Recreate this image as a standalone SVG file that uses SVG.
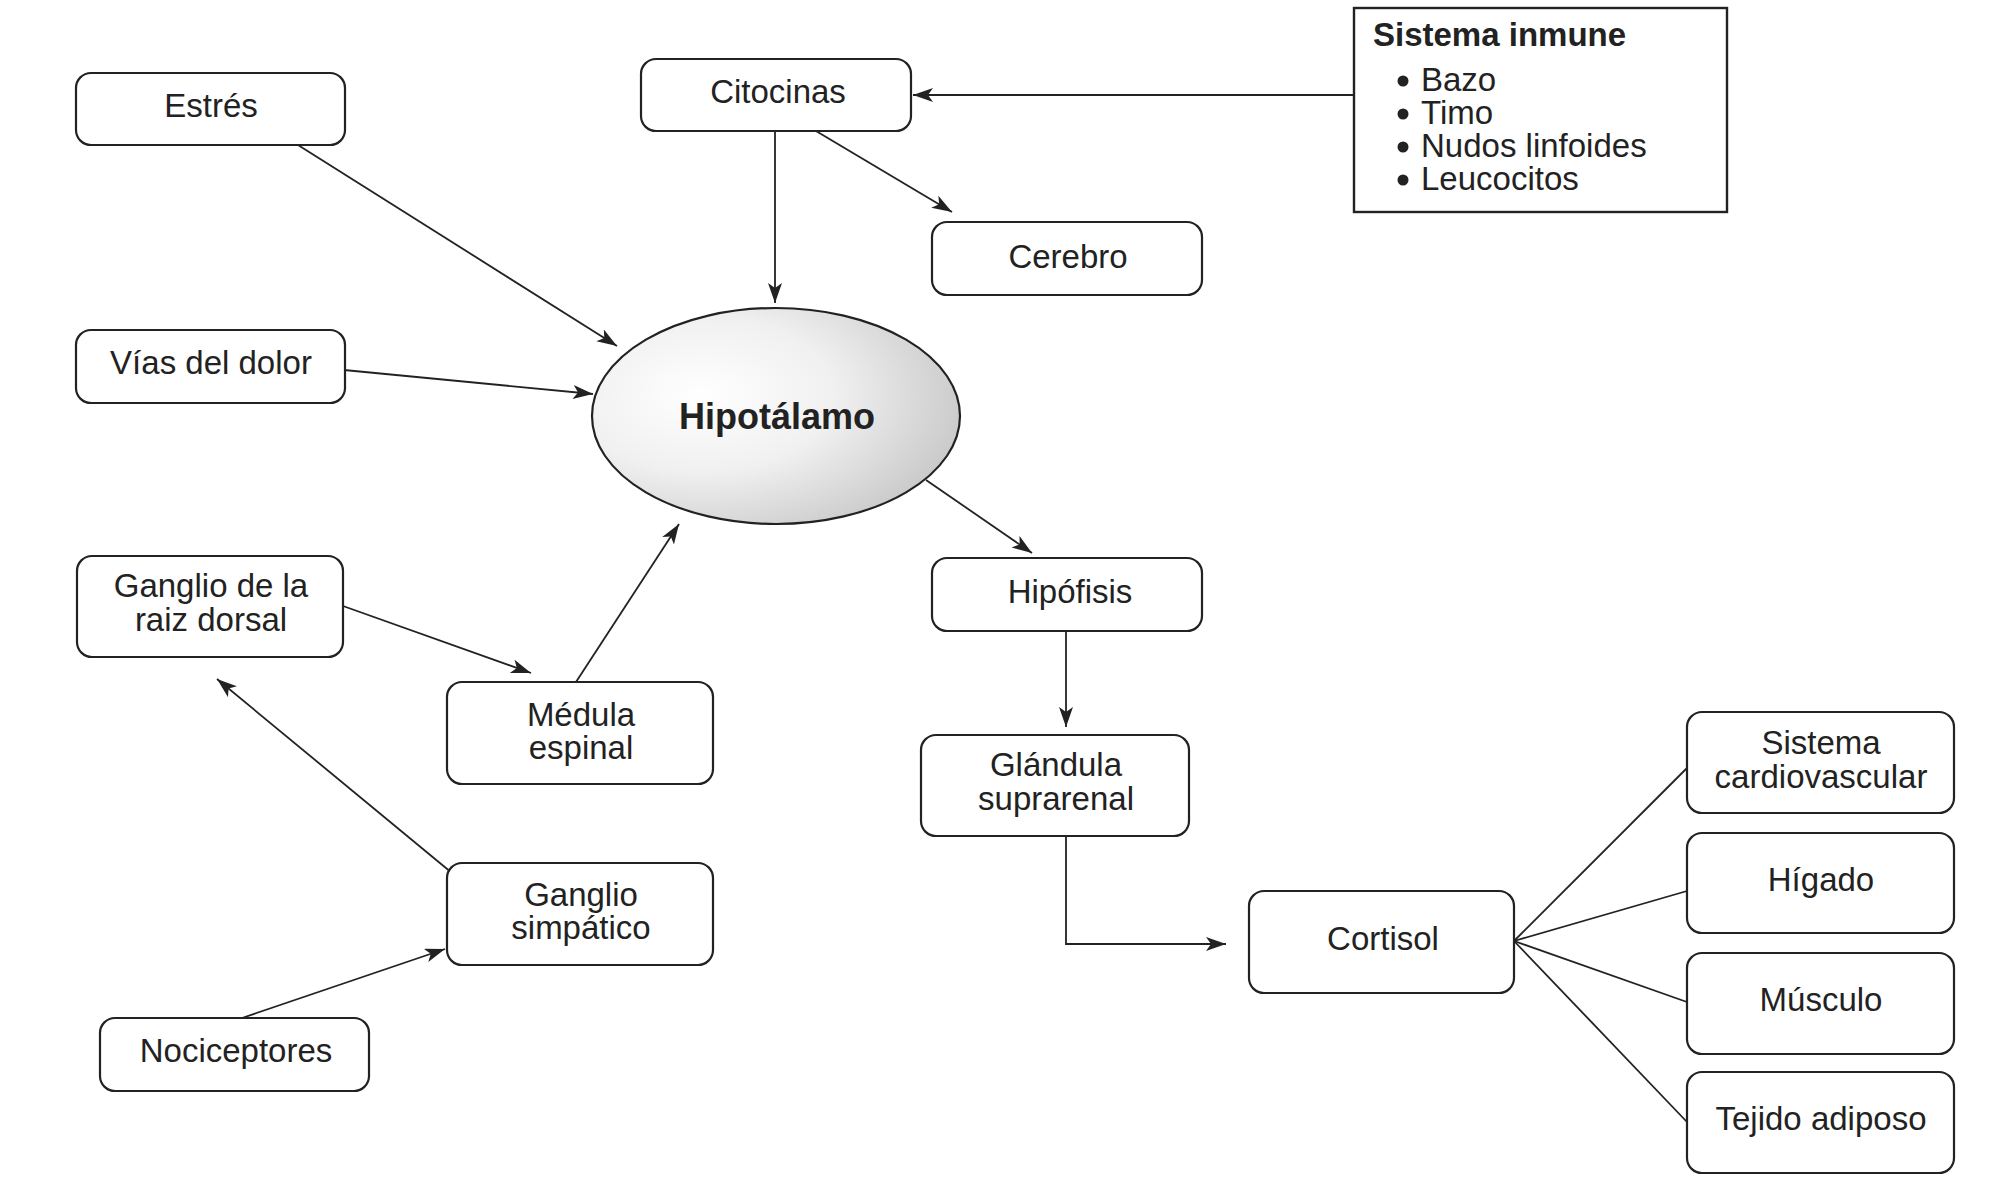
<svg xmlns="http://www.w3.org/2000/svg" width="2000" height="1195" viewBox="0 0 2000 1195">
<style>
.box{fill:#fff;stroke:#222;stroke-width:2.2}
.t{font-family:"Liberation Sans",Arial,sans-serif;font-size:33px;fill:#222;text-anchor:middle}
.b{font-weight:bold}
.c{fill:none;stroke:#222;stroke-width:1.8}
</style>
<defs>
<marker id="ah" markerUnits="userSpaceOnUse" markerWidth="24" markerHeight="16" refX="20" refY="7" orient="auto">
<path d="M0,0 L20,7 L0,14 L5,7 z" fill="#222"/>
</marker>
<radialGradient id="g" cx="0.3" cy="0.4" r="0.8">
<stop offset="0" stop-color="#ffffff"/>
<stop offset="0.45" stop-color="#f0f0f0"/>
<stop offset="1" stop-color="#c2c2c2"/>
</radialGradient>
</defs>
<rect width="2000" height="1195" fill="#fff"/>
<g id="connectors">
<path class="c" d="M1354,95 L913,95" marker-end="url(#ah)"/>
<path class="c" d="M775,131 L775,303" marker-end="url(#ah)"/>
<path class="c" d="M816,131 L952,212" marker-end="url(#ah)"/>
<path class="c" d="M298,145 L617,346" marker-end="url(#ah)"/>
<path class="c" d="M344,370 L593,394" marker-end="url(#ah)"/>
<path class="c" d="M926,480 L1032,553" marker-end="url(#ah)"/>
<path class="c" d="M1066,631 L1066,727" marker-end="url(#ah)"/>
<path class="c" d="M1066,836 L1066,944 L1226,944" marker-end="url(#ah)"/>
<path class="c" d="M1514,941 L1687,768"/>
<path class="c" d="M1514,941 L1687,891"/>
<path class="c" d="M1514,941 L1687,1002"/>
<path class="c" d="M1514,941 L1687,1122"/>
<path class="c" d="M343,606 L531,673" marker-end="url(#ah)"/>
<path class="c" d="M576,682 L679,524" marker-end="url(#ah)"/>
<path class="c" d="M452,873 L217,679" marker-end="url(#ah)"/>
<path class="c" d="M242,1018 L445,949" marker-end="url(#ah)"/>
</g>
<g id="estres"><rect class="box" x="76" y="73" width="269" height="72" rx="15"/><text class="t" x="211" y="117">Estrés</text></g>
<g id="citocinas"><rect class="box" x="641" y="59" width="270" height="72" rx="15"/><text class="t" x="778" y="103">Citocinas</text></g>
<g id="cerebro"><rect class="box" x="932" y="222" width="270" height="73" rx="15"/><text class="t" x="1068" y="268">Cerebro</text></g>
<g id="sistema-inmune"><rect x="1354" y="8" width="373" height="204" fill="#fff" stroke="#222" stroke-width="2.4"/>
<text class="t b" x="1373" y="46" style="text-anchor:start">Sistema inmune</text>
<circle cx="1403" cy="81" r="5.5" fill="#222"/><text class="t" x="1421" y="91" style="text-anchor:start">Bazo</text>
<circle cx="1403" cy="114" r="5.5" fill="#222"/><text class="t" x="1421" y="124" style="text-anchor:start">Timo</text>
<circle cx="1403" cy="147" r="5.5" fill="#222"/><text class="t" x="1421" y="157" style="text-anchor:start">Nudos linfoides</text>
<circle cx="1403" cy="180" r="5.5" fill="#222"/><text class="t" x="1421" y="190" style="text-anchor:start">Leucocitos</text>
</g>
<g id="vias"><rect class="box" x="76" y="330" width="269" height="73" rx="15"/><text class="t" x="211" y="374">Vías del dolor</text></g>
<g id="hipotalamo"><ellipse cx="776" cy="416" rx="184" ry="108" fill="url(#g)" stroke="#222" stroke-width="2.2"/><text class="t b" x="777" y="429" style="font-size:36px">Hipotálamo</text></g>
<g id="raiz"><rect class="box" x="77" y="556" width="266" height="101" rx="15"/><text class="t" x="211" y="597">Ganglio de la</text><text class="t" x="211" y="631">raiz dorsal</text></g>
<g id="medula"><rect class="box" x="447" y="682" width="266" height="102" rx="15"/><text class="t" x="581" y="726">Médula</text><text class="t" x="581" y="759">espinal</text></g>
<g id="simpatico"><rect class="box" x="447" y="863" width="266" height="102" rx="15"/><text class="t" x="581" y="906">Ganglio</text><text class="t" x="581" y="939">simpático</text></g>
<g id="nociceptores"><rect class="box" x="100" y="1018" width="269" height="73" rx="15"/><text class="t" x="236" y="1062">Nociceptores</text></g>
<g id="hipofisis"><rect class="box" x="932" y="558" width="270" height="73" rx="15"/><text class="t" x="1070" y="603">Hipófisis</text></g>
<g id="glandula"><rect class="box" x="921" y="735" width="268" height="101" rx="15"/><text class="t" x="1056" y="776">Glándula</text><text class="t" x="1056" y="810">suprarenal</text></g>
<g id="cortisol"><rect class="box" x="1249" y="891" width="265" height="102" rx="15"/><text class="t" x="1383" y="950">Cortisol</text></g>
<g id="cardio"><rect class="box" x="1687" y="712" width="267" height="101" rx="15"/><text class="t" x="1821" y="754">Sistema</text><text class="t" x="1821" y="788">cardiovascular</text></g>
<g id="higado"><rect class="box" x="1687" y="833" width="267" height="100" rx="15"/><text class="t" x="1821" y="891">Hígado</text></g>
<g id="musculo"><rect class="box" x="1687" y="953" width="267" height="101" rx="15"/><text class="t" x="1821" y="1011">Músculo</text></g>
<g id="tejido"><rect class="box" x="1687" y="1072" width="267" height="101" rx="15"/><text class="t" x="1821" y="1130">Tejido adiposo</text></g>
</svg>
